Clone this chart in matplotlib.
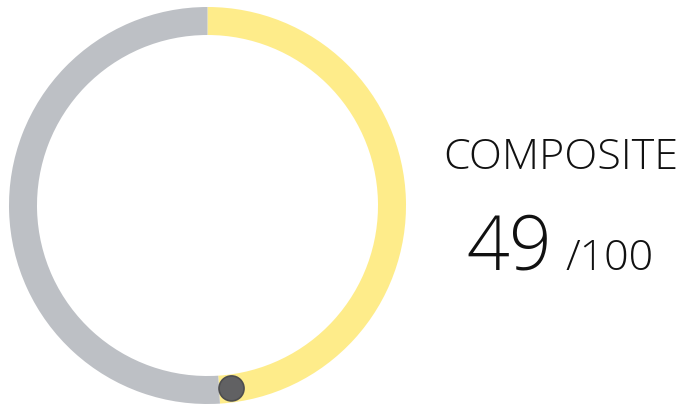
import numpy as np
import matplotlib
matplotlib.use("Agg")
import matplotlib.pyplot as plt
from matplotlib.patches import Circle

# Score data
label = "COMPOSITE"
score = 49
max_score = 100
values = [score, max_score - score]
colors = ["#FEEC8A", "#BDC0C5"]

W, H = 684, 406
fig = plt.figure(figsize=(W / 100, H / 100), dpi=100)
fig.patch.set_facecolor("white")

# Donut ring (pixel geometry converted to figure fractions)
cx, cy, r_out, ring_w = 207.5, 206.5, 198.5, 28.0
ax = fig.add_axes([(cx - r_out) / W, (H - cy - r_out) / H, 2 * r_out / W, 2 * r_out / H])
ax.pie(values, colors=colors, startangle=90, counterclock=False, radius=1.0,
       wedgeprops=dict(width=ring_w / r_out, linewidth=0))
ax.set_xlim(-1, 1)
ax.set_ylim(-1, 1)
ax.set_aspect("equal")
ax.axis("off")

# Marker at the end of the score arc
dot_r = 12.5 / r_out
mid_r = 1.0 - (ring_w / r_out) / 2
end_ang = np.deg2rad(90 - 360 * score / max_score) + dot_r / mid_r
ax.add_patch(Circle((mid_r * np.cos(end_ang), mid_r * np.sin(end_ang)), dot_r,
                    facecolor="#616163", edgecolor="#4d4d4f", linewidth=1.2, zorder=5))

# Labels
font = ["Open Sans", "DejaVu Sans"]
fig.text(561 / W, 1 - 169 / H, label, ha="center", va="baseline",
         fontsize=31, family=font, fontweight="light", color="#111111")
fig.text(552 / W, 1 - 270 / H, str(score), ha="right", va="baseline",
         fontsize=54, family=font, fontweight="light", color="#111111")
fig.text(565 / W, 1 - 270 / H, f"/{max_score}", ha="left", va="baseline",
         fontsize=31, family=font, fontweight="light", color="#111111")

fig.savefig("out.png", dpi=100, facecolor="white")
